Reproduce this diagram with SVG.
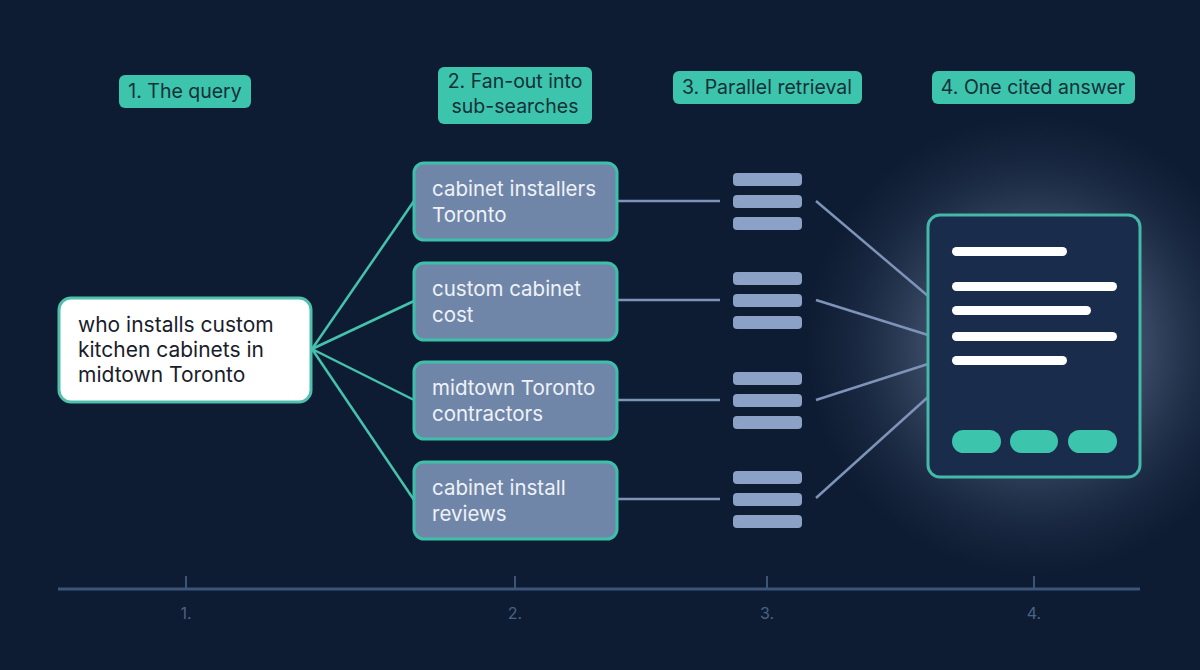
<svg xmlns="http://www.w3.org/2000/svg" width="1200" height="670" viewBox="0 0 1200 670">
<defs>
<radialGradient id="glow" cx="0.5" cy="0.5" r="0.5">
<stop offset="0" stop-color="#a9bad3" stop-opacity="0.7"/>
<stop offset="0.5" stop-color="#7f93b3" stop-opacity="0.35"/>
<stop offset="1" stop-color="#3a4d6e" stop-opacity="0"/>
</radialGradient>
<style>
.lbl{fill:#3cc4ad;}
.lbltxt{font-family:Inter,"Liberation Sans",sans-serif;font-size:19.5px;fill:#153038;text-anchor:middle;}
.sub{fill:#7086a8;stroke:#3dbfaa;stroke-width:3;}
.subtxt{font-family:Inter,"Liberation Sans",sans-serif;font-size:20.5px;fill:#eef2f8;}
.bar{fill:#8ba1c5;}
.teal{stroke:#45c2ac;stroke-width:2.5;fill:none;}
.slate{stroke:#7d93b8;stroke-width:2.5;fill:none;}
.wl{fill:#ffffff;}
.btn{fill:#3cc4ad;}
.tick{stroke:#3b5579;stroke-width:2;}
.num{font-family:Inter,"Liberation Sans",sans-serif;font-size:16px;fill:#4a6283;text-anchor:middle;}
</style>
</defs>
<rect width="1200" height="670" fill="#0e1c33"/>
<circle cx="1035" cy="345" r="230" fill="url(#glow)"/>

<g id="label-1"><rect class="lbl" x="119" y="75" width="132" height="33" rx="6"/><text class="lbltxt" x="185" y="98">1. The query</text></g>
<g id="label-2"><rect class="lbl" x="438" y="67" width="154" height="57" rx="6"/><text class="lbltxt" x="515" y="88">2. Fan-out into</text><text class="lbltxt" x="515" y="113">sub-searches</text></g>
<g id="label-3"><rect class="lbl" x="673" y="71" width="189" height="33" rx="6"/><text class="lbltxt" x="767" y="94">3. Parallel retrieval</text></g>
<g id="label-4"><rect class="lbl" x="932" y="71" width="203" height="33" rx="6"/><text class="lbltxt" x="1033" y="94">4. One cited answer</text></g>

<g id="connectors">
<line class="teal" x1="312" y1="349" x2="414" y2="201"/>
<line class="teal" x1="312" y1="349" x2="414" y2="301"/>
<line class="teal" x1="312" y1="349" x2="414" y2="400"/>
<line class="teal" x1="312" y1="349" x2="414" y2="500"/>
<line class="slate" x1="618" y1="201" x2="720" y2="201"/>
<line class="slate" x1="618" y1="300" x2="720" y2="300"/>
<line class="slate" x1="618" y1="400" x2="720" y2="400"/>
<line class="slate" x1="618" y1="499" x2="720" y2="499"/>
<line class="slate" x1="816" y1="201" x2="928" y2="296"/>
<line class="slate" x1="816" y1="300" x2="928" y2="335"/>
<line class="slate" x1="816" y1="400" x2="928" y2="364"/>
<line class="slate" x1="816" y1="498" x2="928" y2="397"/>
</g>

<g id="query"><rect x="59" y="298" width="252" height="104" rx="12" fill="#ffffff" stroke="#4fbfae" stroke-width="3"/>
<text font-family="Inter,'Liberation Sans',sans-serif" font-size="21" fill="#1a1d2b"><tspan x="78" y="332">who installs custom</tspan><tspan x="78" y="357">kitchen cabinets in</tspan><tspan x="78" y="382">midtown Toronto</tspan></text></g>

<g id="sub-1"><rect class="sub" x="414" y="163" width="203" height="77" rx="10"/><text class="subtxt"><tspan x="432" y="196">cabinet installers</tspan><tspan x="432" y="222">Toronto</tspan></text></g>
<g id="sub-2"><rect class="sub" x="414" y="263" width="203" height="77" rx="10"/><text class="subtxt"><tspan x="432" y="296">custom cabinet</tspan><tspan x="432" y="322">cost</tspan></text></g>
<g id="sub-3"><rect class="sub" x="414" y="362" width="203" height="77" rx="10"/><text class="subtxt"><tspan x="432" y="395">midtown Toronto</tspan><tspan x="432" y="421">contractors</tspan></text></g>
<g id="sub-4"><rect class="sub" x="414" y="462" width="203" height="77" rx="10"/><text class="subtxt"><tspan x="432" y="495">cabinet install</tspan><tspan x="432" y="521">reviews</tspan></text></g>

<g id="stack-1"><rect class="bar" x="733" y="173" width="69" height="13" rx="4"/><rect class="bar" x="733" y="195" width="69" height="13" rx="4"/><rect class="bar" x="733" y="217" width="69" height="13" rx="4"/></g>
<g id="stack-2"><rect class="bar" x="733" y="272" width="69" height="13" rx="4"/><rect class="bar" x="733" y="294" width="69" height="13" rx="4"/><rect class="bar" x="733" y="316" width="69" height="13" rx="4"/></g>
<g id="stack-3"><rect class="bar" x="733" y="372" width="69" height="13" rx="4"/><rect class="bar" x="733" y="394" width="69" height="13" rx="4"/><rect class="bar" x="733" y="416" width="69" height="13" rx="4"/></g>
<g id="stack-4"><rect class="bar" x="733" y="471" width="69" height="13" rx="4"/><rect class="bar" x="733" y="493" width="69" height="13" rx="4"/><rect class="bar" x="733" y="515" width="69" height="13" rx="4"/></g>

<g id="answer"><rect x="928" y="215" width="212" height="262" rx="12" fill="#1a2c4b" stroke="#45b9a8" stroke-width="3"/>
<rect class="wl" x="952" y="247" width="115" height="9" rx="4.5"/>
<rect class="wl" x="952" y="282" width="165" height="9" rx="4.5"/>
<rect class="wl" x="952" y="306" width="139" height="9" rx="4.5"/>
<rect class="wl" x="952" y="332" width="165" height="9" rx="4.5"/>
<rect class="wl" x="952" y="356" width="115" height="9" rx="4.5"/>
<rect class="btn" x="952" y="430" width="49" height="23" rx="11.5"/>
<rect class="btn" x="1010" y="430" width="48" height="23" rx="11.5"/>
<rect class="btn" x="1068" y="430" width="49" height="23" rx="11.5"/>
</g>

<g id="timeline">
<line x1="58" y1="589" x2="1140" y2="589" stroke="#3b5579" stroke-width="3"/>
<line class="tick" x1="186" y1="576" x2="186" y2="589"/>
<line class="tick" x1="515" y1="576" x2="515" y2="589"/>
<line class="tick" x1="767" y1="576" x2="767" y2="589"/>
<line class="tick" x1="1034" y1="576" x2="1034" y2="589"/>
<text class="num" x="186" y="619">1.</text>
<text class="num" x="515" y="619">2.</text>
<text class="num" x="767" y="619">3.</text>
<text class="num" x="1034" y="619">4.</text>
</g>
</svg>
